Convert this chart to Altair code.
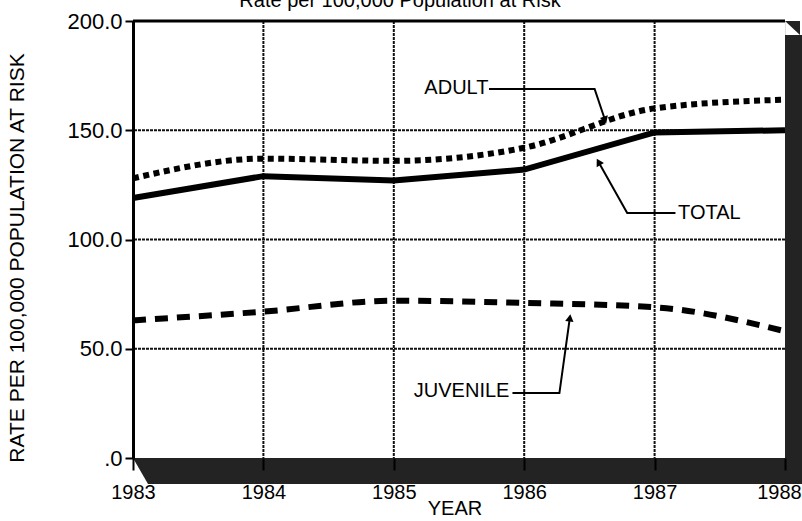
import math

import altair as alt
import pandas as pd

# Yearly rates per 100,000 population at risk
years = [1983, 1984, 1985, 1986, 1987, 1988]
adult = [128, 137, 136, 142, 160, 164]
total = [119, 129, 127, 132, 149, 150]
juvenile = [63, 67, 72, 71, 69, 58]

y_ticks = [0, 50, 100, 150, 200]
inner_grid_years = [1984, 1985, 1986, 1987]
inner_grid_rates = [50, 100, 150]

title_text = "Rate per 100,000 Population at Risk"
y_title = "RATE PER 100,000 POPULATION AT RISK"
x_title = "YEAR"

# Callouts: label centre (year, rate) and leader path ending at the arrow tip
callout_names = ["ADULT", "TOTAL", "JUVENILE"]
callout_text_x = [1985.48, 1987.42, 1985.52]
callout_text_y = [169.3, 112.1, 30.7]
leader_x = [[1985.73, 1986.54, 1986.62], [1987.16, 1986.79, 1986.57], [1985.91, 1986.27, 1986.35]]
leader_y = [[168.9, 168.9, 154.7], [112.1, 112.1, 135.5], [29.7, 29.7, 64.1]]

# Plot area size in pixels, and drop-shadow offset
PW, PH = 652, 437
SHADOW_DX, SHADOW_DY = 15, 26
FONT = "Liberation Sans"
SHADOW_COLOR = "#232323"

x_scale = alt.Scale(domain=[1983, 1988], nice=False, zero=False)
y_scale = alt.Scale(domain=[0, 200], nice=False)

x_axis = alt.Axis(
    values=years, format="d", grid=False, domain=False,
    ticks=True, tickSize=12, tickWidth=2, tickColor="black",
    labelFontSize=20, labelPadding=12, labelColor="black",
    labelFlush=False, labelOverlap=False, title=None, zindex=1,
    labelOffset={"condition": {"test": "datum.value == 1988", "value": -6}, "value": 0},
)
y_axis = alt.Axis(
    values=y_ticks, grid=False,
    labelExpr="datum.value == 0 ? '.0' : format(datum.value, '.1f')",
    domainColor="black", domainWidth=3,
    tickColor="black", tickWidth=2, tickSize=8,
    labelFontSize=22, labelPadding=3, labelColor="black",
    title=None, zindex=1,
)

X = lambda f: alt.X(f, type="quantitative", scale=x_scale, axis=x_axis)
Y = lambda f: alt.Y(f, type="quantitative", scale=y_scale, axis=y_axis)

one = pd.DataFrame({"k": [0]})
px_per_year = PW / 5
px_per_rate = PH / 200

# Dark drop shadow behind the plot panel, then the white panel itself
shadow = alt.Chart(one).mark_rect(color=SHADOW_COLOR).encode(
    x=alt.value(SHADOW_DX), x2=alt.value(PW + 17),
    y=alt.value(14), y2=alt.value(PH + SHADOW_DY),
)
# Bevelled corners of the shadow (lower-left and upper-right)
ddx = SHADOW_DX / px_per_year
bevel = pd.DataFrame({
    "piece": ["bl", "bl", "tr", "tr"],
    "x": [1983, 1983 + ddx, 1988, 1988 + ddx],
    "y": [0, 0, 200, 200],
    "y2": [0, -SHADOW_DY / px_per_rate, 200, 200 - 14 / px_per_rate],
})
bevels = alt.Chart(bevel).mark_area(color=SHADOW_COLOR, interpolate="linear").encode(
    x=X("x"), y=Y("y"), y2="y2", detail="piece:N"
)
panel = alt.Chart(one).mark_rect(color="white").encode(
    x=alt.value(0), x2=alt.value(PW), y=alt.value(0), y2=alt.value(PH)
)

grid_style = dict(color="#111111", strokeWidth=2, strokeDash=[3, 1])
vgrid = alt.Chart(pd.DataFrame({"year": inner_grid_years})).mark_rule(**grid_style).encode(
    x=X("year")
)
hgrid = alt.Chart(pd.DataFrame({"rate": inner_grid_rates})).mark_rule(**grid_style).encode(
    y=Y("rate")
)
top_border = alt.Chart(pd.DataFrame({"rate": [200]})).mark_rule(
    color="black", strokeWidth=3
).encode(y=Y("rate"))

series = pd.DataFrame({"year": years, "adult": adult, "total": total, "juvenile": juvenile})


def series_line(field, interp, **style):
    return alt.Chart(series).mark_line(
        color="black", interpolate=interp, **style
    ).encode(x=X("year"), y=Y(field))


total_line = series_line("total", "linear", strokeWidth=6)
adult_line = series_line("adult", "monotone", strokeWidth=6, strokeDash=[6, 4.5])
juvenile_line = series_line("juvenile", "monotone", strokeWidth=6, strokeDash=[13, 9])

# Callout leaders and arrowheads
leader_rows, head_rows = [], []
for name, xs, ys in zip(callout_names, leader_x, leader_y):
    for i, (lx, ly) in enumerate(zip(xs, ys)):
        leader_rows.append({"name": name, "order": i, "year": lx, "rate": ly})
    dx = (xs[-1] - xs[-2]) * px_per_year
    dy = -(ys[-1] - ys[-2]) * px_per_rate
    ang = math.degrees(math.atan2(dx, -dy)) % 360
    head_rows.append({"name": name, "year": xs[-1], "rate": ys[-1], "angle": ang})

leaders = alt.Chart(pd.DataFrame(leader_rows)).mark_line(
    color="black", strokeWidth=2
).encode(x=X("year"), y=Y("rate"), detail="name:N", order="order:Q")

heads = alt.Chart(pd.DataFrame(head_rows)).mark_point(
    shape="triangle-up", filled=True, color="black", size=70, opacity=1
).encode(
    x=X("year"), y=Y("rate"),
    angle=alt.Angle("angle:Q", scale=None),
)

callout_text = alt.Chart(
    pd.DataFrame({"name": callout_names, "year": callout_text_x, "rate": callout_text_y})
).mark_text(font=FONT, fontSize=20, color="black", align="center", baseline="middle").encode(
    x=X("year"), y=Y("rate"), text="name:N"
)

# Titles placed as text relative to the plot panel
title = alt.Chart(one).mark_text(
    font=FONT, fontSize=20, color="black", align="center", baseline="alphabetic"
).encode(x=alt.value(267), y=alt.value(-14), text=alt.value(title_text))

y_label = alt.Chart(one).mark_text(
    font=FONT, fontSize=21, color="black", align="center", baseline="middle", angle=270
).encode(x=alt.value(-115), y=alt.value(237), text=alt.value(y_title))

x_label = alt.Chart(one).mark_text(
    font=FONT, fontSize=20, color="black", align="center", baseline="middle"
).encode(x=alt.value(322), y=alt.value(488), text=alt.value(x_title))

chart = alt.layer(
    shadow, bevels, panel, vgrid, hgrid, top_border,
    juvenile_line, total_line, adult_line,
    leaders, heads, callout_text,
    title, y_label, x_label,
).properties(
    width=PW,
    height=PH,
    padding={"left": 133, "top": 21, "right": 17, "bottom": 63},
    autosize=alt.AutoSizeParams(type="none"),
).configure_view(
    stroke=None
).configure(
    font=FONT
)

chart.save("out.html", embed_options={"renderer": "svg", "actions": False})
